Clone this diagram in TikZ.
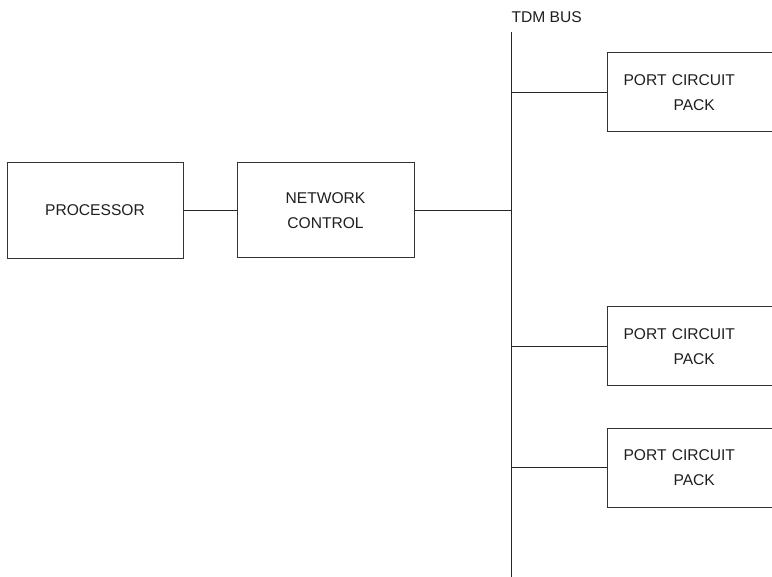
\documentclass[tikz,border=0pt]{standalone}
\usepackage{fontspec}
\setmainfont{Liberation Sans}
\begin{document}
\begin{tikzpicture}[x=1pt,y=-1pt,
  line width=1pt,
  every node/.style={font=\fontsize{15.6}{25}\selectfont, text=black!88},
  blockbox/.style={draw=black!80, line width=1pt, inner sep=0pt, align=center},
  portbox/.style={draw=black!80, line width=1pt, anchor=west, minimum height=79pt,
    text width=170pt, inner xsep=16pt, inner ysep=0pt, align=left},
  wire/.style={draw=black!85, line width=1pt}]
\useasboundingbox (0,0) rectangle (772,577);
\clip (0,0) rectangle (772,577);
\fill[white] (0,0) rectangle (772,577);
\node[blockbox, minimum width=176pt, minimum height=96pt] (proc) at (95,210.5) {PROCESSOR};
\node[blockbox, minimum width=177pt, minimum height=95pt] (net) at (325.5,210.5) {NETWORK\\CONTROL};
\coordinate (bt) at (511,32);
\coordinate (bb) at (511,577);
\node[anchor=base west, inner sep=0pt] (tdm) at (511,22.5) {TDM BUS};
\node[portbox] (p1) at (607,92.5) {PORT CIRCUIT\\\hspace*{50pt}PACK};
\node[portbox] (p2) at (607,346.5) {PORT CIRCUIT\\\hspace*{50pt}PACK};
\node[portbox] (p3) at (607,468) {PORT CIRCUIT\\\hspace*{50pt}PACK};
\draw[wire] (bt) -- (bb);
\draw[wire] (proc.east) -- (net.west);
\draw[wire] (net.east) -- (net.east -| bt);
\draw[wire] (p1.west -| bt) -- (p1.west);
\draw[wire] (p2.west -| bt) -- (p2.west);
\draw[wire] (p3.west -| bt) -- (p3.west);
\end{tikzpicture}
\end{document}
